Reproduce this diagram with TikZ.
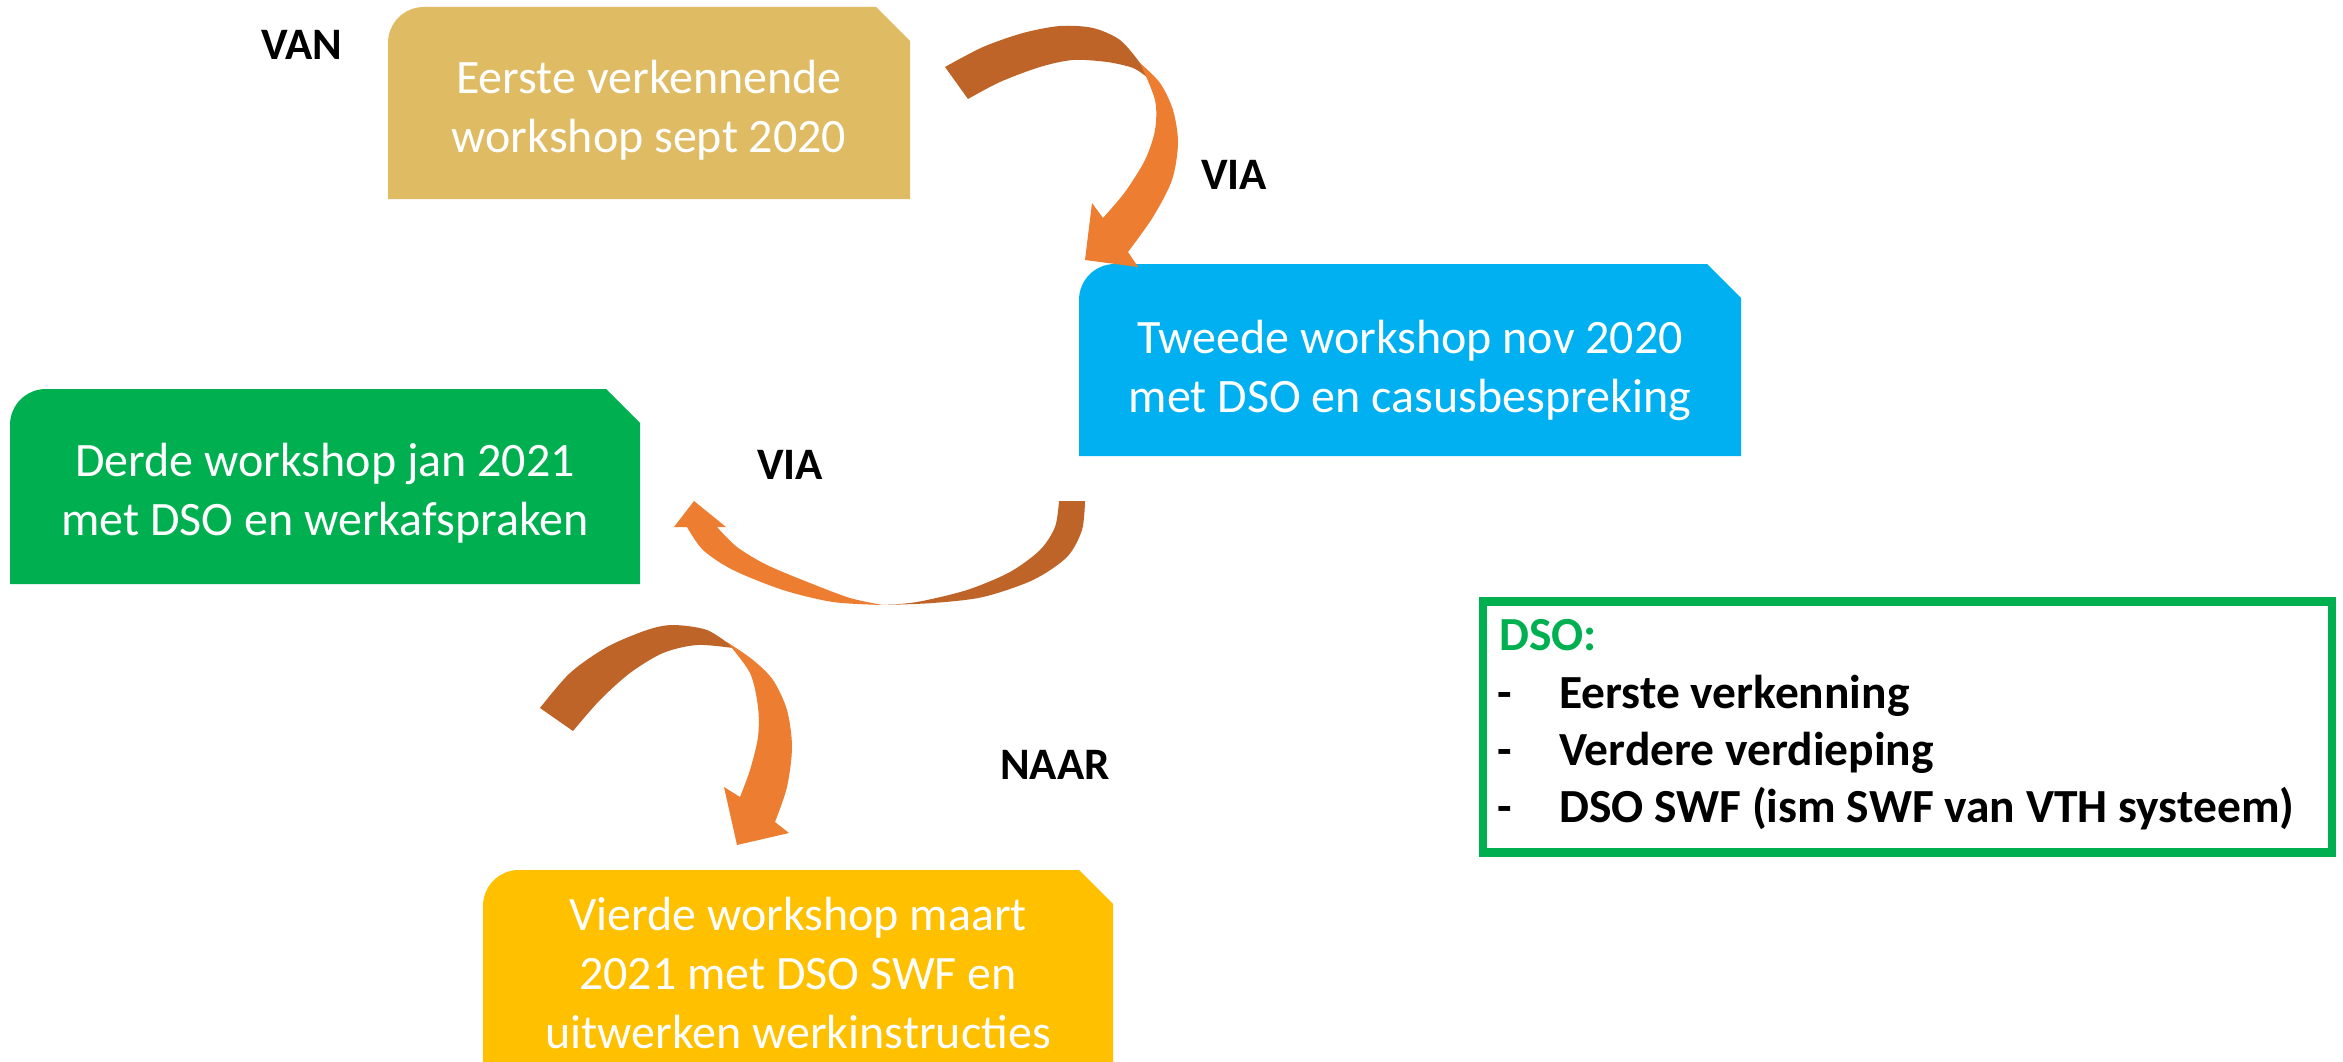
\documentclass[tikz,border=0pt]{standalone}
\usepackage{fontspec}
\setmainfont{Carlito}
\usetikzlibrary{backgrounds}
\definecolor{goldA}{HTML}{DFBB63}
\definecolor{blueB}{HTML}{00B0F0}
\definecolor{greenC}{HTML}{00B050}
\definecolor{goldD}{HTML}{FFC000}
\definecolor{arrBrown}{HTML}{BF6428}
\definecolor{arrOrange}{HTML}{ED7D31}
\tikzset{
  boxtext/.style={text=white, align=center, font=\fontsize{48}{59}\selectfont, inner sep=0pt},
  lbl/.style={font=\fontsize{45}{54}\selectfont\bfseries, inner sep=0pt},
  dsoitem/.style={font=\fontsize{47.5}{57}\selectfont\bfseries, inner sep=0pt, anchor=base west},
}
% name, x1, y1, x2, y2, colour
\newcommand\snipbox[6]{%
  \fill[#6] (#2,#5) -- (#2,#3+36) .. controls (#2,#3+16) and (#2+16,#3) .. (#2+36,#3)
    -- (#4-34,#3) -- (#4,#3+34) -- (#4,#5) -- cycle;
  \coordinate (#1) at ({(#2+#4)/2},{(#3+#5)/2});
}
\begin{document}
\begin{tikzpicture}[x=1pt,y=-1pt]
\useasboundingbox (0,0) rectangle (2343,1062);

% boxes
\snipbox{b1}{388}{7}{910}{199}{goldA}
\snipbox{b2}{1079}{264}{1741}{456}{blueB}
\snipbox{b3}{10}{389}{640}{584}{greenC}
\snipbox{b4}{483}{870}{1113}{1100}{goldD}
\node[boxtext] (t1) at ([yshift=-7pt]b1) {Eerste verkennende\\workshop sept 2020};
\node[boxtext] (t2) at ([yshift=-10pt]b2) {Tweede workshop nov 2020\\met DSO en casusbespreking};
\node[boxtext] (t3) at ([yshift=-7pt]b3) {Derde workshop jan 2021\\met DSO en werkafspraken};
\node[boxtext] (t4) at (798,973) {Vierde workshop maart\\2021 met DSO SWF en\\uitwerken werkinstructies};

% labels
\node[lbl] (van) at (302,45) {VAN};
\node[lbl] (via1) at (1234,175) {VIA};
\node[lbl] (via2) at (790,465) {VIA};
\node[lbl] (naar) at (1055,765) {NAAR};

% arrow 1
\fill[arrBrown] plot[smooth] coordinates {(945,67) (983,47) (1023,33) (1060,26) (1093,28) (1120,40) (1140,63) (1148,78)}
  -- plot[smooth] coordinates {(1148,78) (1133,68) (1107,62) (1073,60) (1040,67) (1000,82) (968,99)} -- cycle;
\fill[arrOrange] plot[smooth] coordinates {(1140,63) (1155,100) (1155,130) (1145,160) (1125,192) (1103,218)}
  -- (1092,203) -- (1085,260) -- (1138,267) -- (1128,252)
  -- plot[smooth] coordinates {(1128,252) (1153,217) (1172,180) (1178,143) (1173,110) (1160,83) (1140,63)} -- cycle;

% arrow 2
\fill[arrBrown] plot[smooth] coordinates {(1085,501) (1082,530) (1067,557) (1033,580) (983,597) (933,603) (883,605)}
  -- plot[smooth] coordinates {(883,605) (917,602) (967,590) (1010,572) (1040,550) (1055,527) (1059,501)} -- cycle;
\fill[arrOrange] plot[smooth] coordinates {(883,605) (833,602) (783,590) (733,570) (703,550) (687,527)}
  -- (674,527) -- (694,501) -- (726,527) -- (717,527)
  -- plot[smooth] coordinates {(717,527) (737,547) (767,565) (810,583) (850,598) (883,605)} -- cycle;

% arrow 3
\fill[arrBrown] plot[smooth] coordinates {(540,708) (570,673) (607,647) (647,630) (673,625) (707,630) (733,647)}
  -- plot[smooth] coordinates {(733,648) (697,645) (663,653) (630,673) (600,700) (573,731)} -- cycle;
\fill[arrOrange] plot[smooth] coordinates {(727,642) (750,673) (758,707) (758,737) (750,770) (740,797)}
  -- (724,787) -- (737,845) -- (789,833) -- (775,822)
  -- plot[smooth] coordinates {(775,822) (787,787) (792,747) (787,710) (773,680) (753,660) (727,642)} -- cycle;

% DSO box
\node[draw=greenC, line width=8.5pt, minimum width=849pt, minimum height=251pt, inner sep=0pt, anchor=north west] (dso) at (1478.5,597) {};
\node[dsoitem, text=greenC] (dsoh) at (1499,650) {DSO:};
\node[dsoitem] (d1) at (1497,708) {-};
\node[dsoitem] (i1) at (1559,708) {Eerste verkenning};
\node[dsoitem] (d2) at (1497,765) {-};
\node[dsoitem] (i2) at (1559,765) {Verdere verdieping};
\node[dsoitem] (d3) at (1497,822) {-};
\node[dsoitem] (i3) at (1559,822) {DSO SWF (ism SWF van VTH systeem)};
\end{tikzpicture}
\end{document}
